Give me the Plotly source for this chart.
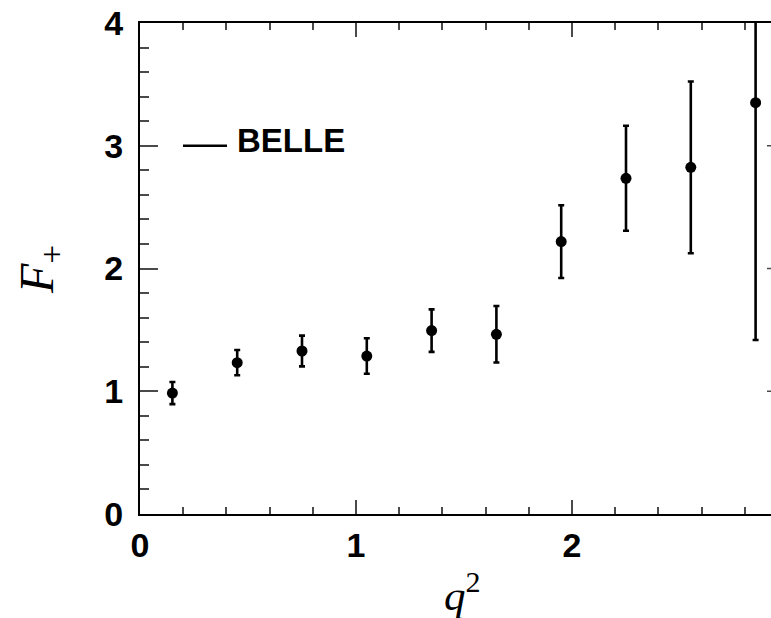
import plotly.graph_objects as go

# Data
q2 = [0.15, 0.45, 0.75, 1.05, 1.35, 1.65, 1.95, 2.25, 2.55, 2.85]
f_plus = [0.985, 1.233, 1.328, 1.287, 1.494, 1.464, 2.219, 2.735, 2.824, 3.351]
f_err = [0.09, 0.103, 0.125, 0.145, 0.173, 0.23, 0.296, 0.428, 0.70, 1.933]

x_ticks = [0, 1, 2]
y_ticks = [0, 1, 2, 3, 4]
series_name = "BELLE"

W, H = 771, 618
L, R, T, B = 140, 0, 23, 104
X_RANGE = [0, (W - L - R) / 216.0]
Y_RANGE = [0, 4]

TICK_COLOR = "#4a4a4a"
SANS = "Liberation Sans, Arial, sans-serif"
SERIF = "Liberation Serif, Times New Roman, serif"

fig = go.Figure()
fig.add_trace(go.Scatter(
    x=q2, y=f_plus, mode="markers", name=series_name, showlegend=False,
    marker=dict(color="black", size=11),
    error_y=dict(type="data", array=f_err, visible=True, color="black",
                 thickness=2.6, width=3),
    cliponaxis=True,
))

fig.update_layout(
    width=W, height=H,
    margin=dict(l=L, r=R, t=T, b=B),
    paper_bgcolor="white", plot_bgcolor="white",
    showlegend=False,
)
fig.update_xaxes(
    range=X_RANGE, showgrid=False, zeroline=False,
    showline=True, linecolor="black", linewidth=2, mirror="ticks",
    ticks="inside", ticklen=14, tickwidth=1.5, tickcolor=TICK_COLOR,
    tickvals=x_ticks, ticktext=[str(v) for v in x_ticks],
    tickfont=dict(family=SANS, size=34, color="black", weight="bold"),
    ticklabelstandoff=0,
    minor=dict(dtick=0.2, ticks="inside", ticklen=7, tickwidth=1.5,
               tickcolor=TICK_COLOR, showgrid=False),
)
fig.update_yaxes(
    range=Y_RANGE, showgrid=False, zeroline=False,
    showline=True, linecolor="black", linewidth=2, mirror=False,
    ticks="inside", ticklen=18, tickwidth=1.5, tickcolor=TICK_COLOR,
    tickvals=y_ticks, ticktext=[str(v) for v in y_ticks],
    tickfont=dict(family=SANS, size=34, color="black", weight="bold"),
    ticklabelstandoff=8,
    minor=dict(dtick=0.2, ticks="inside", ticklen=9, tickwidth=1.5,
               tickcolor=TICK_COLOR, showgrid=False),
)

# right-hand mirrored major ticks (axis itself lies just beyond the crop)
for yv in y_ticks[1:-1]:
    fig.add_shape(type="line", xref="paper", yref="y",
                  x0=(767 - L) / (W - L - R), x1=1.0, y0=yv, y1=yv,
                  line=dict(color=TICK_COLOR, width=1.5))

# legend: line + label
fig.add_shape(type="line", xref="paper", yref="y",
              x0=(183 - L) / (W - L - R), x1=(227 - L) / (W - L - R),
              y0=3, y1=3, line=dict(color="black", width=2.5))
fig.add_annotation(text="<b>%s</b>" % series_name, xref="paper", yref="y",
                   x=(235 - L) / (W - L - R), y=3, xanchor="left", yanchor="middle",
                   yshift=5, showarrow=False,
                   font=dict(family=SANS, size=33, color="black"))

# axis titles
fig.add_annotation(text="<i>q</i><sup>2</sup>", xref="paper", yref="paper",
                   x=(462 - L) / (W - L - R), y=-(592 - (H - B)) / (H - T - B),
                   xanchor="center", yanchor="middle", showarrow=False,
                   font=dict(family=SERIF, size=43, color="black"))
fig.add_annotation(text="<i>F</i><sub>+</sub>", xref="paper", yref="paper",
                   x=-(L - 40) / (W - L - R), y=(H - B - 270) / (H - T - B),
                   xanchor="center", yanchor="middle", textangle=-90, showarrow=False,
                   font=dict(family=SERIF, size=48, color="black"))

fig.write_html("out.html")
